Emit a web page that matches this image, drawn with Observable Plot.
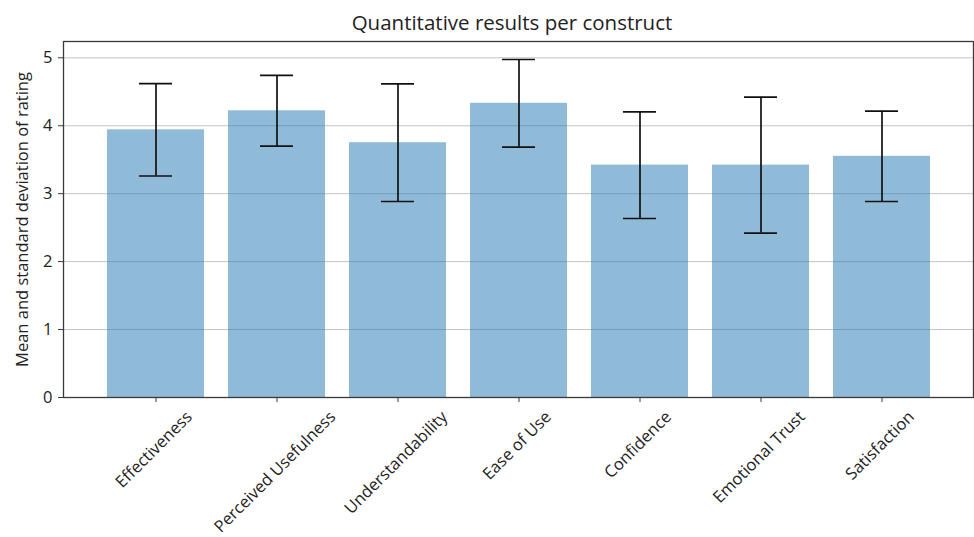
<!DOCTYPE html>
<html>
<head>
<meta charset="utf-8">
<script src="https://cdn.jsdelivr.net/npm/d3@7"></script>
<script src="https://cdn.jsdelivr.net/npm/@observablehq/plot@0.6"></script>
<style>
  html, body { margin: 0; padding: 0; background: white; }
  #title { height: 40px; width: 910px; margin-left: 57px; text-align: center;
           font-family: "Open Sans", sans-serif; font-size: 20.5px; line-height: 44px; color: #222; }
</style>
</head>
<body>
<div id="title"></div>
<div id="chart"></div>
<script>
const titleText = "Quantitative results per construct";
const yLabelText = "Mean and standard deviation of rating";
const categories = ["Effectiveness", "Perceived Usefulness", "Understandability", "Ease of Use", "Confidence", "Emotional Trust", "Satisfaction"];
const means = [3.94, 4.22, 3.75, 4.33, 3.42, 3.42, 3.55];
const sds = [0.68, 0.52, 0.865, 0.645, 0.785, 1.0, 0.665];
const yTicks = [0, 1, 2, 3, 4, 5];

document.getElementById("title").textContent = titleText;

const data = categories.map((c, i) => ({c, m: means[i], s: sds[i]}));
const errColor = "#111";
const fs = 16.5;

const chart = Plot.plot({
  width: 974,
  height: 497,
  marginLeft: 63,
  marginRight: 1,
  marginTop: 1,
  marginBottom: 140,
  style: {fontFamily: "Open Sans, sans-serif", fontSize: fs + "px", color: "#222", background: "white", overflow: "visible"},
  x: {domain: categories, paddingInner: 0.2, paddingOuter: 0.34, align: 0.5},
  y: {domain: [0, 5.24]},
  marks: [
    Plot.gridY(yTicks, {stroke: "#c4c4c4", strokeOpacity: 1, strokeWidth: 1}),
    Plot.barY(data, {x: "c", y: "m", fill: "#1f77b4", fillOpacity: 0.5}),
    Plot.ruleX(data, {x: "c", y1: d => d.m - d.s, y2: d => d.m + d.s, stroke: errColor, strokeWidth: 1.7}),
    Plot.tickY(data, {x: "c", y: d => d.m + d.s, stroke: errColor, strokeWidth: 1.7, insetLeft: 32, insetRight: 32}),
    Plot.tickY(data, {x: "c", y: d => d.m - d.s, stroke: errColor, strokeWidth: 1.7, insetLeft: 32, insetRight: 32}),
    Plot.frame({stroke: "#3a3a3a", strokeWidth: 1.3}),
    Plot.axisY(yTicks, {tickSize: 5, tickPadding: 6, tickFormat: d => String(d), label: null, fontSize: fs, stroke: "#3a3a3a"}),
    Plot.axisX({tickSize: 5, tickFormat: () => "", label: null, stroke: "#3a3a3a"}),
    Plot.text(categories, {x: d => d, frameAnchor: "bottom", rotate: -45, textAnchor: "middle", lineAnchor: "middle", fontSize: fs, fill: "#222", className: "xlab"}),
    Plot.text([yLabelText], {frameAnchor: "left", rotate: -90, dx: -41, textAnchor: "middle", lineAnchor: "middle", fontSize: fs, fill: "#222"})
  ]
});

document.getElementById("chart").append(chart);

// Center rotated tick labels under their ticks (matplotlib-style ha="center", va="top")
const c45 = Math.SQRT1_2;
const fh = fs * 1.15;
chart.querySelectorAll("g.xlab text").forEach(t => {
  const L = t.getComputedTextLength();
  const tr = t.getAttribute("transform") || "";
  const m = /translate\(\s*([-\d.e]+)[ ,]+([-\d.e]+)\s*\)/.exec(tr);
  if (!m) return;
  const x = +m[1] - 2, y = +m[2];
  const yc = y + 10 + (L * c45 + fh * c45) / 2;
  t.setAttribute("transform", `translate(${x},${yc}) rotate(-45)`);
});
</script>
</body>
</html>
